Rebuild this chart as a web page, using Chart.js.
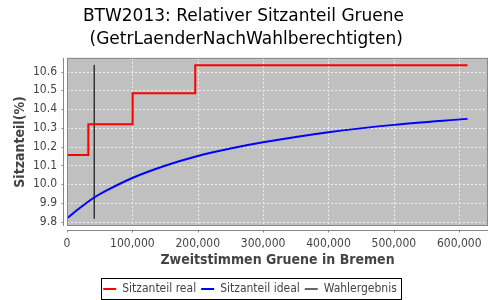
<!DOCTYPE html>
<html>
<head>
<meta charset="utf-8">
<script src="https://cdn.jsdelivr.net/npm/chart.js@4"></script>
<style>
  html, body { margin: 0; padding: 0; background: #fff; }
  #wrap { width: 500px; height: 300px; }
</style>
</head>
<body>
<div id="wrap"><canvas id="chart" width="500" height="300"></canvas></div>
<script>
// values
const realX = [0, 32600, 100400, 196200, 612700];
const realY = [10.156, 10.319, 10.485, 10.634, 10.634];

const idealX = [0, 20000, 40000, 60000, 100000, 150000, 200000, 250000, 300000, 400000, 500000, 612700];
const idealY = [9.818, 9.874, 9.925, 9.965, 10.033, 10.098, 10.150, 10.190, 10.223, 10.277, 10.316, 10.348];

const wahlX = [41700, 41700];
const wahlY = [9.816, 10.636];

const xTicks = [0, 100000, 200000, 300000, 400000, 500000, 600000];
const yTicks = [9.8, 9.9, 10.0, 10.1, 10.2, 10.3, 10.4, 10.5, 10.6];

const toPoints = (xs, ys) => xs.map((x, i) => ({ x: x, y: ys[i] }));

const FONT = '"DejaVu Sans Condensed", "Liberation Sans", sans-serif';
const tickColor = '#444444';
const axisColor = '#888888';

// plot background, dashed grid, outline, offset axes and legend frame
const plotDecor = {
  id: 'plotDecor',
  afterLayout(chart) {
    if (chart.titleBlock) chart.titleBlock.right = 487;
    if (chart.legend) chart.legend.right = 500;
  },
  beforeDatasetsDraw(chart) {
    const { ctx, chartArea: a, scales } = chart;
    ctx.save();
    ctx.fillStyle = '#c0c0c0';
    ctx.fillRect(a.left, a.top, a.right - a.left, a.bottom - a.top);
    ctx.strokeStyle = '#f0f0f0';
    ctx.lineWidth = 1;
    ctx.setLineDash([2, 2]);
    ctx.beginPath();
    yTicks.forEach(v => {
      const y = Math.round(scales.y.getPixelForValue(v)) + 0.5;
      ctx.moveTo(a.left, y);
      ctx.lineTo(a.right, y);
    });
    xTicks.forEach(v => {
      const x = Math.round(scales.x.getPixelForValue(v)) + 0.5;
      ctx.moveTo(x, a.top);
      ctx.lineTo(x, a.bottom);
    });
    ctx.stroke();
    ctx.restore();
  },
  afterDraw(chart) {
    const { ctx, chartArea: a, scales } = chart;
    ctx.save();
    ctx.strokeStyle = axisColor;
    ctx.lineWidth = 1;
    ctx.strokeRect(a.left + 0.5, a.top + 0.5, a.right - a.left - 1, a.bottom - a.top - 1);
    // y axis line, offset 4px
    const ax = Math.round(a.left - 4) + 0.5;
    ctx.beginPath();
    ctx.moveTo(ax, a.top);
    ctx.lineTo(ax, a.bottom);
    yTicks.forEach(v => {
      const y = Math.round(scales.y.getPixelForValue(v)) + 0.5;
      ctx.moveTo(ax - 2, y);
      ctx.lineTo(ax, y);
    });
    // x axis line, offset 4px
    const ay = Math.round(a.bottom + 4) + 0.5;
    ctx.moveTo(a.left, ay);
    ctx.lineTo(a.right, ay);
    xTicks.forEach(v => {
      const x = Math.round(scales.x.getPixelForValue(v)) + 0.5;
      ctx.moveTo(x, ay);
      ctx.lineTo(x, ay + 2);
    });
    ctx.stroke();
    // legend frame
    const boxes = chart.legend.legendHitBoxes;
    if (boxes && boxes.length) {
      const l = boxes[0].left - 2;
      const last = boxes[boxes.length - 1];
      const r = last.left + last.width + 4;
      const cy = boxes[0].top + boxes[0].height / 2;
      ctx.strokeStyle = '#000';
      ctx.strokeRect(Math.round(l) + 0.5, Math.round(cy - 11) + 0.5, Math.round(r - l), 21);
    }
    ctx.restore();
  }
};

new Chart(document.getElementById('chart'), {
  type: 'line',
  data: {
    datasets: [
      {
        label: 'Sitzanteil real',
        data: toPoints(realX, realY),
        borderColor: '#ff0000',
        backgroundColor: '#ff0000',
        borderWidth: 2,
        stepped: 'before',
        pointRadius: 0
      },
      {
        label: 'Sitzanteil ideal',
        data: toPoints(idealX, idealY),
        borderColor: '#0000ff',
        backgroundColor: '#0000ff',
        borderWidth: 2,
        cubicInterpolationMode: 'monotone',
        pointRadius: 0
      },
      {
        label: 'Wahlergebnis',
        data: toPoints(wahlX, wahlY),
        borderColor: '#333333',
        backgroundColor: '#333333',
        borderWidth: 1.5,
        pointRadius: 0
      }
    ]
  },
  options: {
    responsive: false,
    animation: false,
    layout: { padding: { left: 0, right: 12, top: 0, bottom: -5 } },
    plugins: {
      title: {
        display: true,
        text: ['BTW2013: Relativer Sitzanteil Gruene', ' (GetrLaenderNachWahlberechtigten)'],
        color: '#000',
        font: { family: 'DejaVu Sans', size: 17, weight: 'normal', lineHeight: 1.35 },
        padding: { top: 5.5, bottom: 6.5 }
      },
      legend: {
        position: 'bottom',
        labels: {
          usePointStyle: true,
          pointStyle: 'line',
          pointStyleWidth: 13,
          boxHeight: 12,
          padding: 5,
          color: tickColor,
          font: { family: FONT, size: 12 }
        }
      },
      tooltip: { enabled: false }
    },
    scales: {
      x: {
        type: 'linear',
        min: 0,
        max: 644000,
        afterBuildTicks: s => { s.ticks = xTicks.map(v => ({ value: v })); },
        afterFit: s => { s.height = 300 + 5 - s.chart.legend.height - 226; },
        grid: { display: false, drawTicks: false, tickLength: 0 },
        border: { display: false },
        ticks: {
          color: tickColor,
          padding: 11,
          font: { family: FONT, size: 12 },
          callback: v => v.toLocaleString('en-US')
        },
        title: {
          display: true,
          text: 'Zweitstimmen Gruene in Bremen',
          color: tickColor,
          font: { family: FONT, size: 14, weight: 'bold' },
          padding: { top: 2, bottom: 9 }
        }
      },
      y: {
        min: 9.777,
        max: 10.673,
        afterBuildTicks: s => { s.ticks = yTicks.map(v => ({ value: v })); },
        afterFit: s => { s.width = 67; },
        grid: { display: false, drawTicks: false, tickLength: 0 },
        border: { display: false },
        ticks: {
          color: tickColor,
          padding: 10,
          font: { family: FONT, size: 12 },
          callback: v => v.toFixed(1)
        },
        title: {
          display: true,
          text: 'Sitzanteil(%)',
          color: tickColor,
          font: { family: FONT, size: 14, weight: 'bold' },
          padding: { top: 12, bottom: 4 }
        }
      }
    }
  },
  plugins: [plotDecor]
});
</script>
</body>
</html>
